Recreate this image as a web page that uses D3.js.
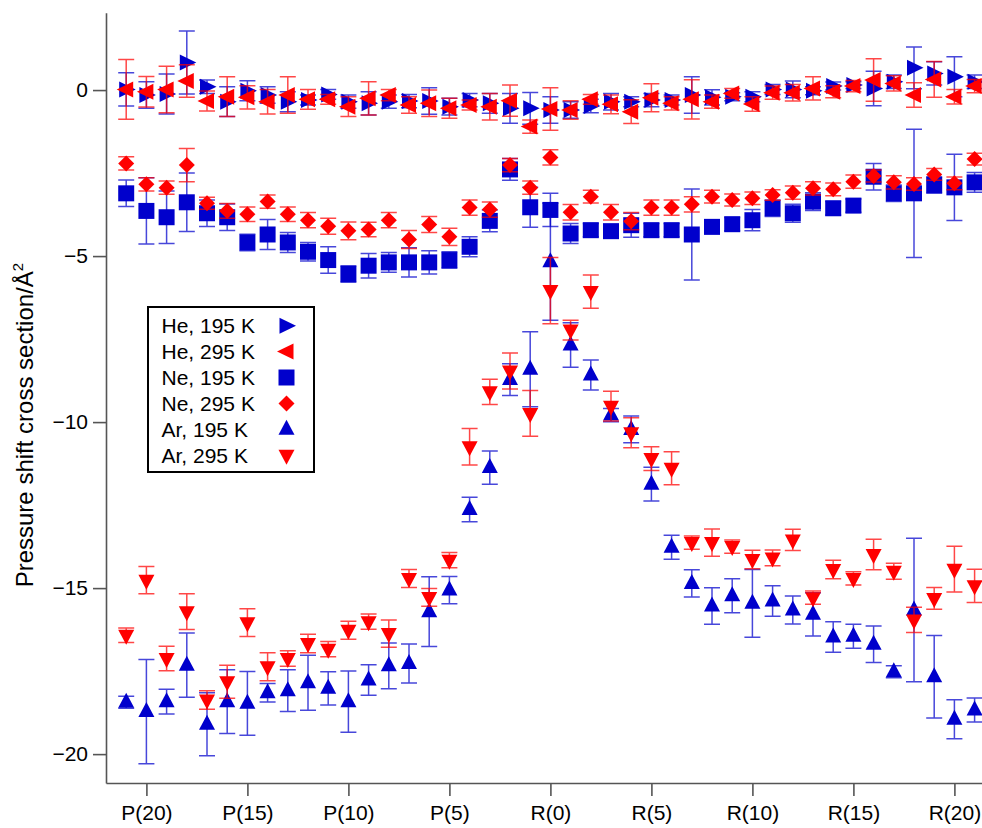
<!DOCTYPE html>
<html>
<head>
<meta charset="utf-8">
<script src="https://cdn.jsdelivr.net/npm/d3@7"></script>
<style>
  html, body { margin: 0; padding: 0; background: #fff; }
  svg { display: block; font-family: "Liberation Sans", Arial, sans-serif; }
</style>
</head>
<body>
<script>
// Rotational lines, P branch (high J first) then R branch
const lines = [
  "P(21)","P(20)","P(19)","P(18)","P(17)","P(16)","P(15)","P(14)","P(13)","P(12)","P(11)",
  "P(10)","P(9)","P(8)","P(7)","P(6)","P(5)","P(4)","P(3)","P(2)","P(1)",
  "R(0)","R(1)","R(2)","R(3)","R(4)","R(5)","R(6)","R(7)","R(8)","R(9)","R(10)",
  "R(11)","R(12)","R(13)","R(14)","R(15)","R(16)","R(17)","R(18)","R(19)","R(20)","R(21)"
];
const tickLines = ["P(20)","P(15)","P(10)","P(5)","R(0)","R(5)","R(10)","R(15)","R(20)"];
const yTicks = [0, -5, -10, -15, -20];

// Pressure shift cross sections (Å^2) and their uncertainties, one entry per line
const he195 = [0.02,-0.15,-0.12,0.83,0.1,-0.35,-0.02,-0.15,-0.35,-0.3,-0.13,-0.35,-0.4,-0.35,-0.33,-0.33,-0.5,-0.3,-0.4,-0.55,-0.55,
  -0.6,-0.6,-0.48,-0.35,-0.35,-0.3,-0.3,-0.15,-0.22,-0.2,-0.2,0.02,0.02,-0.02,0.12,0.15,0.05,0.25,0.67,0.5,0.4,0.25];
const he195Err = [0.5,0.4,0.6,0.95,0.2,0.45,0.3,0.25,0.3,0.15,0.15,0.2,0.35,0.2,0.2,0.4,0.25,0.2,0.3,0.45,0.48,
  0.4,0.25,0.2,0.25,0.15,0.2,0.15,0.55,0.23,0.12,0.15,0.15,0.25,0.12,0.12,0.1,0.52,0.2,0.63,0.35,0.6,0.2];

const he295 = [0.02,-0.05,0.02,0.27,-0.33,-0.2,-0.22,-0.35,-0.15,-0.28,-0.28,-0.5,-0.25,-0.15,-0.45,-0.4,-0.55,-0.45,-0.5,-0.32,-1.1,
  -0.57,-0.6,-0.28,-0.43,-0.65,-0.23,-0.4,-0.28,-0.35,-0.1,-0.42,-0.08,-0.08,0.05,-0.05,0.12,0.3,0.2,-0.15,0.32,-0.2,0.12];
const he295Err = [0.9,0.46,0.7,0.49,0.3,0.6,0.35,0.37,0.55,0.3,0.15,0.3,0.5,0.17,0.25,0.4,0.3,0.15,0.4,0.47,0.2,
  0.64,0.28,0.15,0.28,0.36,0.42,0.2,0.59,0.2,0.15,0.22,0.2,0.25,0.35,0.18,0.17,0.64,0.23,0.37,0.54,0.22,0.2];

const ne195 = [-3.11,-3.64,-3.83,-3.38,-3.71,-3.83,-4.59,-4.35,-4.59,-4.87,-5.12,-5.54,-5.29,-5.19,-5.19,-5.19,-5.12,-4.72,-3.94,-2.39,-3.53,
  -3.61,-4.32,-4.22,-4.25,-4.07,-4.22,-4.22,-4.35,-4.12,-4.04,-3.92,-3.56,-3.71,-3.36,-3.56,-3.48,-2.61,-3.11,-3.11,-2.86,-2.93,-2.78];
const ne195Err = [0.4,1.0,0.79,0.88,0.4,0.4,0.25,0.45,0.3,0.28,0.4,0.25,0.37,0.3,0.44,0.35,0.25,0.3,0.33,0.33,0.6,
  0.5,0.3,0.2,0.2,0.36,0.2,0.2,1.37,0.2,0.2,0.32,0.25,0.27,0.27,0.2,0.2,0.4,0.25,1.93,0.25,1.0,0.3];

const ne295 = [-2.21,-2.84,-2.94,-2.26,-3.41,-3.64,-3.74,-3.36,-3.74,-3.92,-4.1,-4.24,-4.2,-3.92,-4.5,-4.05,-4.42,-3.54,-3.6,-2.26,-2.94,
  -2.03,-3.68,-3.21,-3.68,-3.95,-3.54,-3.54,-3.44,-3.21,-3.31,-3.26,-3.16,-3.09,-2.96,-2.99,-2.76,-2.59,-2.78,-2.83,-2.54,-2.81,-2.08];
const ne295Err = [0.2,0.2,0.2,0.5,0.18,0.22,0.22,0.2,0.22,0.23,0.24,0.27,0.22,0.23,0.27,0.24,0.26,0.23,0.23,0.2,0.2,
  0.23,0.23,0.19,0.23,0.26,0.23,0.23,0.23,0.19,0.18,0.19,0.16,0.2,0.2,0.19,0.2,0.18,0.2,0.19,0.18,0.19,0.18];

const ar195 = [-18.44,-18.72,-18.42,-17.32,-19.1,-18.42,-18.47,-18.15,-18.09,-17.85,-18.02,-18.42,-17.77,-17.34,-17.27,-15.71,-15.06,-12.63,-11.37,-8.72,-8.41,
  -5.17,-7.68,-8.58,-9.79,-10.22,-11.87,-13.77,-14.86,-15.54,-15.23,-15.46,-15.39,-15.66,-15.79,-16.47,-16.45,-16.69,-17.52,-15.66,-17.67,-18.95,-18.67];
const ar195Err = [0.18,1.57,0.37,0.97,0.95,0.96,0.96,0.28,0.63,0.83,0.5,0.92,0.46,0.69,0.59,1.05,0.41,0.37,0.5,0.48,1.13,
  1.76,0.67,0.45,0.2,0.4,0.51,0.36,0.41,0.55,0.51,1.02,0.46,0.42,0.65,0.46,0.36,0.55,0.18,2.16,1.24,0.59,0.36];

const ar295 = [-16.42,-14.76,-17.12,-15.71,-18.37,-17.82,-16.04,-17.37,-17.12,-16.67,-16.84,-16.27,-16.01,-16.37,-14.71,-15.28,-14.16,-10.74,-9.09,-8.46,-9.74,
  -6.04,-7.23,-6.07,-9.52,-10.32,-11.1,-11.39,-13.63,-13.63,-13.75,-14.14,-14.09,-13.55,-15.29,-14.44,-14.71,-13.99,-14.49,-15.96,-15.31,-14.43,-14.93];
const ar295Err = [0.22,0.41,0.37,0.54,0.28,0.5,0.42,0.42,0.23,0.28,0.23,0.27,0.23,0.41,0.27,0.27,0.23,0.55,0.38,0.54,0.69,
  1.0,0.3,0.5,0.45,0.45,0.36,0.5,0.2,0.41,0.2,0.28,0.24,0.32,0.2,0.28,0.2,0.46,0.24,0.38,0.33,0.69,0.5];

const BLUE = "#0000cc", RED = "#ff0000";

// Marker outlines, centred on the data point
const shapes = {
  right: "M-7,-8L9.5,0L-7,8Z",
  left: "M7,-8L-9.5,0L7,8Z",
  square: "M-8,-8H8V8H-8Z",
  diamond: "M0,-8L8,0L0,8L-8,0Z",
  up: "M0,-9.5L8,5.5L-8,5.5Z",
  down: "M0,9.5L8,-5.5L-8,-5.5Z"
};

const series = [
  { name: "He, 195 K", values: he195, errors: he195Err, color: BLUE, shape: "right" },
  { name: "He, 295 K", values: he295, errors: he295Err, color: RED, shape: "left" },
  { name: "Ne, 195 K", values: ne195, errors: ne195Err, color: BLUE, shape: "square" },
  { name: "Ne, 295 K", values: ne295, errors: ne295Err, color: RED, shape: "diamond" },
  { name: "Ar, 195 K", values: ar195, errors: ar195Err, color: BLUE, shape: "up" },
  { name: "Ar, 295 K", values: ar295, errors: ar295Err, color: RED, shape: "down" }
];

// P(J) sits at -J, R(J) at +J on the line axis
function linePos(label) {
  const j = +label.slice(2, -1);
  return label[0] === "P" ? -j : j;
}

const W = 982, H = 828;
const x = d3.scaleLinear().domain([-22, 22]).range([106, 994.8]);
const y = d3.scaleLinear().domain([-20.87, 2.33]).range([783, 12.7]);

const svg = d3.select("body").append("svg").attr("width", W).attr("height", H);

// Axes
const axisColor = "#555";
const gx = svg.append("g").attr("transform", `translate(0,${y.range()[0]})`)
  .call(d3.axisBottom(x)
    .tickValues(tickLines.map(linePos))
    .tickFormat((d, i) => tickLines[i])
    .tickSize(13).tickSizeOuter(0).tickPadding(9));
const gy = svg.append("g").attr("transform", `translate(${x.range()[0]},0)`)
  .call(d3.axisLeft(y).tickValues(yTicks).tickSize(13).tickSizeOuter(0).tickPadding(5));
[gx, gy].forEach(g => {
  g.select(".domain").attr("stroke", axisColor).attr("stroke-width", 1.6);
  g.selectAll(".tick line").attr("stroke", axisColor).attr("stroke-width", 1.6);
  g.selectAll(".tick text").attr("fill", "#000").attr("font-size", 21)
    .attr("font-family", "Liberation Sans, Arial, sans-serif");
});

// Y axis title
svg.append("text")
  .attr("transform", `translate(33,${(y(-15) + y(-5)) / 2 + 3}) rotate(-90)`)
  .attr("text-anchor", "middle")
  .attr("font-size", 24)
  .attr("fill", "#000")
  .html('Pressure shift cross section/Å<tspan dy="-10" font-size="15">2</tspan>');

// Data: error bars then markers, series drawn in order so red lies over blue
const plot = svg.append("g");
series.forEach(s => {
  const pts = lines.map((l, i) => ({ m: linePos(l), v: s.values[i], e: s.errors[i] }));
  const g = plot.append("g");
  const eb = g.append("g").attr("stroke", s.color).attr("stroke-width", 1.5).attr("stroke-opacity", 0.72).attr("fill", "none");
  pts.forEach(p => {
    const cx = x(p.m), y0 = y(p.v + p.e), y1 = y(p.v - p.e);
    eb.append("path").attr("d", `M${cx},${y0}V${y1}M${cx - 8},${y0}H${cx + 8}M${cx - 8},${y1}H${cx + 8}`);
  });
  g.append("g").selectAll("path").data(pts).join("path")
    .attr("d", shapes[s.shape])
    .attr("transform", p => `translate(${x(p.m)},${y(p.v)})`)
    .attr("fill", s.color);
});

// Legend
const lg = svg.append("g");
lg.append("rect").attr("x", 148).attr("y", 307).attr("width", 166).attr("height", 165)
  .attr("fill", "#fff").attr("stroke", "#000").attr("stroke-width", 2);
series.forEach((s, i) => {
  const cy = 325.7 + i * 25.9;
  lg.append("text").attr("x", 161.5).attr("y", cy).attr("dy", "0.36em")
    .attr("font-size", 21).attr("fill", "#000").text(s.name);
  lg.append("path").attr("d", shapes[s.shape])
    .attr("transform", `translate(286.5,${cy})`).attr("fill", s.color);
});
</script>
</body>
</html>
